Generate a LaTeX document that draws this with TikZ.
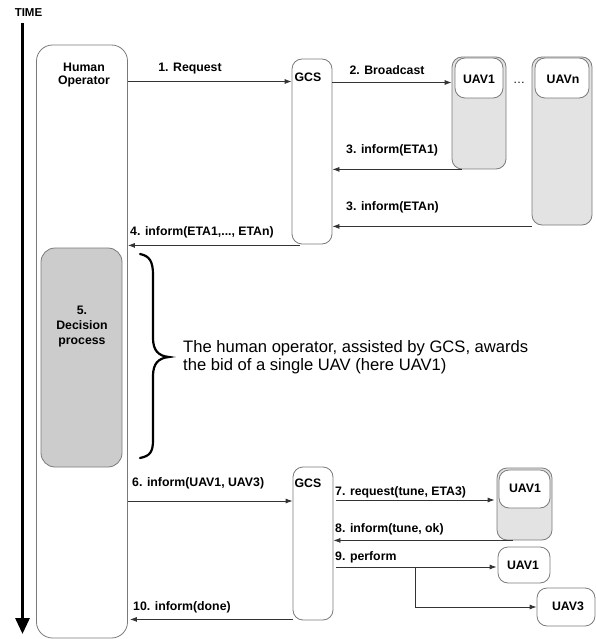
\documentclass[tikz,border=0pt]{standalone}
\usepackage{fontspec}
\setmainfont{Liberation Sans}
\usetikzlibrary{arrows.meta,calc}
\definecolor{boxline}{HTML}{7A7A7A}
\definecolor{arrline}{HTML}{333333}
\definecolor{decfill}{HTML}{CCCCCC}
\definecolor{uavfill}{HTML}{E3E3E3}
\begin{document}
\begin{tikzpicture}[x=1pt,y=-1pt,
  box/.style={draw=boxline, line width=0.8pt, inner sep=0pt, rounded corners=#1},
  box/.default=10pt,
  lbl/.style={font=\fontsize{12.3}{13.5}\selectfont\bfseries, inner sep=0pt, align=center},
  msg/.style={arrline, line width=0.8pt, -{Latex[length=7pt,width=5pt]}},
]
\useasboundingbox (0,0) rectangle (596,639);

% time axis
\node[font=\fontsize{11.5}{13}\selectfont\bfseries, inner sep=0pt] (time) at (28.5,13) {TIME};
\coordinate (tt) at (22.5,23);
\coordinate (tb) at (22.5,634);
\draw[line width=3pt, -{Triangle[length=16pt,width=14pt]}] (tt) -- (tb);

% boxes
\node[box=16pt, minimum width=91pt, minimum height=593pt] (ho) at (82,341.5) {};
\node[box=14pt, fill=decfill, minimum width=81pt, minimum height=219pt] (dec) at (81.5,357.5) {};
\node[box=10pt, minimum width=40pt, minimum height=185pt] (gcs1) at (312,151.5) {};
\node[box=10pt, fill=uavfill, minimum width=54pt, minimum height=112pt] (uav1o) at (479,113) {};
\node[box=10pt, fill=white, minimum width=48pt, minimum height=40pt] (uav1i) at (479,78) {};
\node[box=10pt, fill=uavfill, minimum width=60pt, minimum height=168pt] (uavno) at (562,141) {};
\node[box=10pt, fill=white, minimum width=54pt, minimum height=40pt] (uavni) at (562,78) {};
\node[box=10pt, minimum width=40pt, minimum height=153pt] (gcs2) at (313,543.5) {};
\node[box=10pt, fill=uavfill, minimum width=55pt, minimum height=72pt] (uav1bo) at (524.5,504) {};
\node[box=10pt, fill=white, minimum width=51pt, minimum height=38pt] (uav1bi) at (524.5,489) {};
\node[box=10pt, minimum width=52pt, minimum height=36pt] (uav1c) at (524,565) {};
\node[box=10pt, minimum width=58pt, minimum height=38pt] (uav3) at (566,607) {};

% box texts
\node[lbl] (hot) at (84,75) {Human\\Operator};
\node[lbl, font=\fontsize{12.3}{15}\selectfont\bfseries] (dect) at (82,327) {5.\\Decision\\process};
\node[lbl] (gcs1t) at (308,77) {GCS};
\node[lbl] (gcs2t) at (308,483) {GCS};
\node[lbl] (u1t) at (479,79) {UAV1};
\node[lbl] (unt) at (563,79) {UAVn};
\node[lbl] (u1bt) at (525,488) {UAV1};
\node[lbl] (u1ct) at (523,565) {UAV1};
\node[lbl] (u3t) at (568,606) {UAV3};
\node[inner sep=0pt, font=\fontsize{12}{13}\selectfont] (dots) at (519,83) {\ldots};

% y-levels
\coordinate (y1) at (0,81.5);
\coordinate (y2) at (0,82.5);
\coordinate (y6) at (0,501);
\coordinate (y7) at (0,500);
\coordinate (y9) at (0,567);

% messages
\draw[msg] (ho.east |- y1) -- (gcs1.west |- y1);
\draw[msg] (gcs1.east |- y2) -- (uav1o.west |- y2);
\coordinate (s3a) at ($(uav1o.south west)+(10,0)$);
\draw[msg] (s3a) -- (gcs1.east |- s3a);
\coordinate (s3b) at ($(uavno.south west)+(0,1)$);
\draw[msg] (s3b) -- (gcs1.east |- s3b);
\coordinate (s4) at ($(gcs1.south west)+(8,1)$);
\draw[msg] (s4) -- (ho.east |- s4);
\draw[msg] (ho.east |- y6) -- (gcs2.west |- y6);
\draw[msg, shorten <=3pt, shorten >=2pt] (gcs2.east |- y7) -- (uav1bo.west |- y7);
\coordinate (s8) at ($(uav1bo.south west)+(16,0)$);
\draw[msg] (s8) -- (gcs2.east |- s8);
\draw[msg, shorten <=3pt, shorten >=1pt] (gcs2.east |- y9) -- (uav1c.west |- y9);
\coordinate (br) at (415,567);
\draw[msg] (br) |- (uav3.west);
\coordinate (s10) at ($(gcs2.south west)+(0,-1)$);
\draw[msg, shorten >=2pt] (s10) -- (ho.east |- s10);

% message labels
\node[lbl] (l1) at (190,69) {1. Request};
\node[lbl] (l2) at (387,70) {2. Broadcast};
\node[lbl, anchor=west] (l3a) at (346,150) {3. inform(ETA1)};
\node[lbl, anchor=west] (l3b) at (346,207) {3. inform(ETAn)};
\node[lbl, anchor=west] (l4) at (130,232) {4. inform(ETA1,..., ETAn)};
\node[lbl, anchor=west] (l6) at (132,483) {6. inform(UAV1, UAV3)};
\node[lbl, anchor=west] (l7) at (335,492) {7. request(tune, ETA3)};
\node[lbl, anchor=west] (l8) at (335,529) {8. inform(tune, ok)};
\node[lbl, anchor=west] (l9) at (335,557) {9. perform};
\node[lbl, anchor=west] (l10) at (133,607) {10. inform(done)};

% brace and note
\draw[line width=2.2pt, line cap=round] (140,254) .. controls (150,256) and (153,262) .. (153,275) -- (153,338)
  .. controls (153,350) and (158,356) .. (169,357)
  .. controls (158,358) and (153,364) .. (153,376) -- (153,440)
  .. controls (153,452) and (150,456) .. (140,458);
\node[inner sep=0pt, anchor=west, align=left, font=\fontsize{16.6}{17.5}\selectfont] (note) at (183,357)
  {The human operator, assisted by GCS, awards\\the bid of a single UAV (here UAV1)};
\end{tikzpicture}
\end{document}
